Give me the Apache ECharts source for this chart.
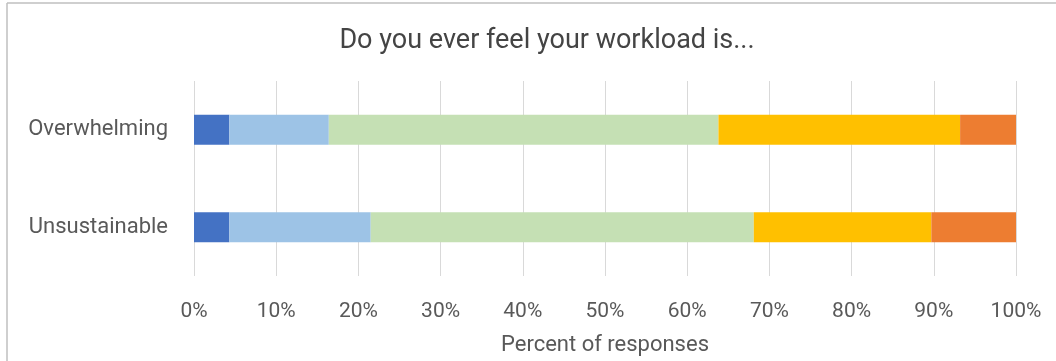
<!DOCTYPE html>
<html>
<head>
<meta charset="utf-8">
<script src="https://cdn.jsdelivr.net/npm/echarts@6/dist/echarts.min.js"></script>
<style>
html,body{margin:0;padding:0;background:#fff;}
#chart{width:1056px;height:361px;}
</style>
</head>
<body>
<div id="chart"></div>
<script>
const categories = ['Unsustainable', 'Overwhelming'];
const seriesNames = ['Always', 'Often', 'Sometimes', 'Rarely', 'Never'];
const seriesColors = ['#4472C4', '#9DC3E6', '#C5E0B4', '#FFC000', '#ED7D31'];
// values per series, ordered as categories (Unsustainable, Overwhelming)
const s1 = [4.3, 4.3];
const s2 = [17.2, 12.1];
const s3 = [46.6, 47.4];
const s4 = [21.6, 29.4];
const s5 = [10.3, 6.8];
const seriesValues = [s1, s2, s3, s4, s5];
const xTicks = [0, 10, 20, 30, 40, 50, 60, 70, 80, 90, 100];

const chart = echarts.init(document.getElementById('chart'), null, {renderer: 'canvas'});
const textColor = '#595959';
chart.setOption({
  animation: false,
  backgroundColor: '#fff',
  title: {
    text: 'Do you ever feel your workload is...',
    left: 542, top: 23, textAlign: 'center',
    textStyle: {fontFamily: 'Roboto', fontSize: 27, fontWeight: 'normal', color: '#444'}
  },
  graphic: [
    {type: 'line', shape: {x1: 7, y1: 3, x2: 1056, y2: 3}, style: {stroke: '#bfbfbf', lineWidth: 1.5}},
    {type: 'line', shape: {x1: 7, y1: 3, x2: 7, y2: 361}, style: {stroke: '#bfbfbf', lineWidth: 1.5}}
  ],
  grid: {left: 194, right: 40, top: 81, bottom: 84, containLabel: false},
  xAxis: {
    type: 'value', min: xTicks[0], max: xTicks[xTicks.length - 1], interval: 10,
    name: 'Percent of responses', nameLocation: 'middle', nameGap: 58,
    nameTextStyle: {fontFamily: 'Roboto', fontSize: 22, color: textColor},
    axisLine: {show: false}, axisTick: {show: false},
    axisLabel: {formatter: '{value}%', margin: 25, fontFamily: 'Roboto', fontSize: 21, color: textColor},
    splitLine: {show: true, lineStyle: {color: '#d9d9d9', width: 1}}
  },
  yAxis: {
    type: 'category', data: categories,
    axisLine: {show: false}, axisTick: {show: false},
    axisLabel: {margin: 26, fontFamily: 'Roboto', fontSize: 22, color: textColor}
  },
  series: seriesNames.map((n, i) => ({
    name: n, type: 'bar', stack: 'total', barWidth: 30,
    itemStyle: {color: seriesColors[i]},
    data: seriesValues[i]
  }))
});
</script>
</body>
</html>
